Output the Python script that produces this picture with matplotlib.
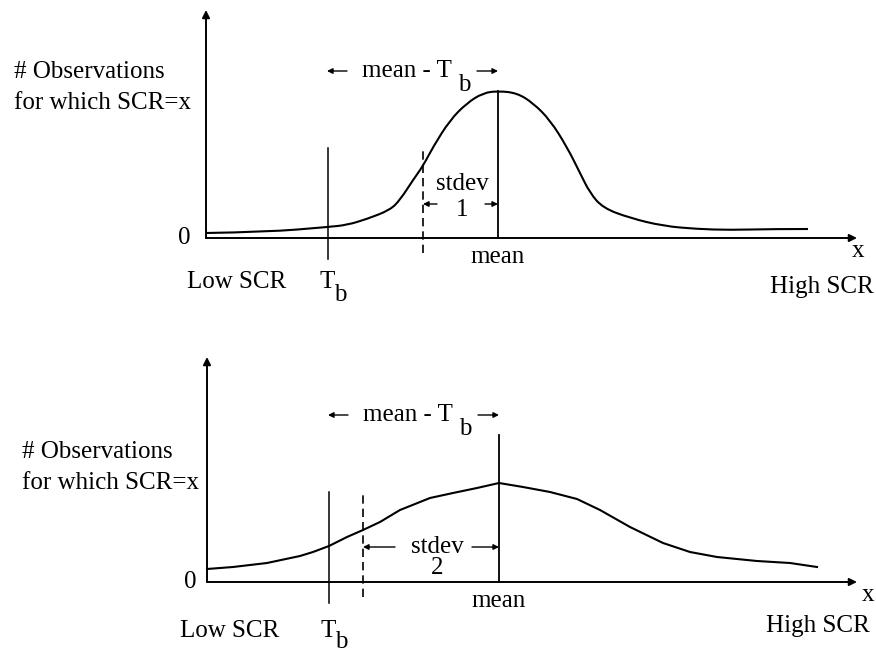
import matplotlib
matplotlib.use('Agg')
import matplotlib.pyplot as plt
from matplotlib.path import Path
from matplotlib.patches import PathPatch

plt.rcParams['font.family'] = ['Liberation Serif', 'DejaVu Serif']
FS = 18

# narrow distribution (stdev 1), x/y in plot units from the origin
top_x = [0, 61, 122, 141, 161, 184, 194, 207, 217, 227, 244, 261, 277, 292,
         311, 327, 344, 361, 374, 384, 397, 424, 457, 491, 524, 567, 602]
top_y = [5, 6, 11, 13, 19, 28, 38, 58, 72, 91, 118, 135, 145, 147,
         145, 135, 118, 91, 65, 45, 30, 20, 12, 9, 8, 9, 9]
top_tb = 122
top_mean = 292
top_sd = 75

# wide distribution (stdev 2)
bot_x = [0, 26, 60, 93, 106, 122, 140, 156, 173, 193, 223, 246, 270, 292,
         316, 343, 370, 393, 423, 456, 483, 510, 550, 583, 610]
bot_y = [13, 15, 19, 26, 30, 36, 45, 52, 60, 72, 84, 89, 94, 99,
         95, 90, 83, 72, 55, 39, 30, 25, 21, 19, 15]
bot_tb = 122
bot_mean = 292
bot_sd = 136


def arrow(ax, x0, y0, x1, y1, size=9, lw=1.0):
    ax.annotate('', xy=(x1, y1), xytext=(x0, y0),
                arrowprops=dict(arrowstyle='-|>', mutation_scale=size, lw=lw,
                                color='k', shrinkA=0, shrinkB=0))


def smooth_curve(ax, xs, ys, lw):
    # quadratic bezier through the midpoints, points act as control points
    pts = list(zip(xs, ys))
    verts = [pts[0]]
    codes = [Path.MOVETO]
    for i in range(1, len(pts) - 1):
        mid = ((pts[i][0] + pts[i + 1][0]) / 2, (pts[i][1] + pts[i + 1][1]) / 2)
        if i == len(pts) - 2:
            mid = pts[-1]
        verts += [pts[i], mid]
        codes += [Path.CURVE3, Path.CURVE3]
    ax.add_patch(PathPatch(Path(verts, codes), fill=False, lw=lw, ec='k'))


def draw_panel(ax, xs, ys, tb, mean, sd, sd_num, smooth, ytop, xend,
               ylab_x, ylab_y, zero_x, low_x, low_y, high_x, high_y, tsub_y,
               x_x, sd_x, sd_y, sd_dy, sd_arrow_y, sd_gap):
    ax.axis('off')
    # axes with arrow heads
    arrow(ax, 0, 0, 0, ytop, size=11, lw=1.4)
    arrow(ax, 0, 0, xend, 0, size=11, lw=1.4)

    if smooth:
        smooth_curve(ax, xs, ys, 1.5)
    else:
        ax.plot(xs, ys, color='k', lw=1.5, solid_joinstyle='round')

    # threshold, mean and one-stdev markers
    ax.plot([tb, tb], [-21, 90], color='k', lw=1.1)
    ax.plot([mean - sd, mean - sd], [-15, 91], color='k', lw=1.2, ls=(0, (5, 3)))
    ax.plot([mean, mean], [0, 147], color='k', lw=1.3)

    # mean - T_b span
    arrow(ax, 141, 167, 121, 167, size=8)
    ax.text(156, 167, 'mean - T', fontsize=FS, va='center', ha='left')
    ax.text(258, 153, 'b', fontsize=FS, va='center', ha='center')
    arrow(ax, 271, 167, mean, 167, size=8)

    # stdev span
    ax.text(sd_x, sd_y, 'stdev', fontsize=FS, va='center', ha='center')
    ax.text(sd_x, sd_y - sd_dy, sd_num, fontsize=FS, va='center', ha='center')
    arrow(ax, sd_gap[0], sd_arrow_y, mean - sd, sd_arrow_y, size=8)
    arrow(ax, sd_gap[1], sd_arrow_y, mean, sd_arrow_y, size=8)

    # labels
    ax.text(ylab_x, ylab_y, '# Observations', fontsize=FS, va='center', ha='left')
    ax.text(ylab_x, ylab_y - 31, 'for which SCR=x', fontsize=FS, va='center', ha='left')
    ax.text(zero_x, 0, '0', fontsize=FS, va='center', ha='center')
    ax.text(low_x, low_y, 'Low SCR', fontsize=FS, va='baseline', ha='left')
    ax.text(tb - 1, low_y, 'T', fontsize=FS, va='baseline', ha='center')
    ax.text(tb + 12, tsub_y, 'b', fontsize=FS, va='baseline', ha='center')
    ax.text(mean, -19, 'mean', fontsize=FS, va='center', ha='center')
    ax.text(x_x, -13, 'x', fontsize=FS, va='center', ha='center')
    ax.text(high_x, high_y, 'High SCR', fontsize=FS, va='baseline', ha='right')


fig = plt.figure(figsize=(8.76, 6.52), dpi=100)

ax1 = fig.add_axes([0, 0.5, 1, 0.5])
ax1.set_xlim(-206, 670)
ax1.set_ylim(-88, 238)
draw_panel(ax1, top_x, top_y, top_tb, top_mean, top_sd, '1', True, 228, 651,
           -192, 166, -22, -19, -50, 668, -55, -63,
           652, 256, 54, 26, 34, (231, 279))

ax2 = fig.add_axes([0, 0, 1, 0.5])
ax2.set_xlim(-207, 669)
ax2.set_ylim(-70, 256)
draw_panel(ax2, bot_x, bot_y, bot_tb, bot_mean, bot_sd, '2', False, 225, 650,
           -185, 130, -17, -27, -55, 663, -50, -66,
           661, 230, 35, 21, 35, (188, 265))

fig.savefig('out.png', dpi=100)
